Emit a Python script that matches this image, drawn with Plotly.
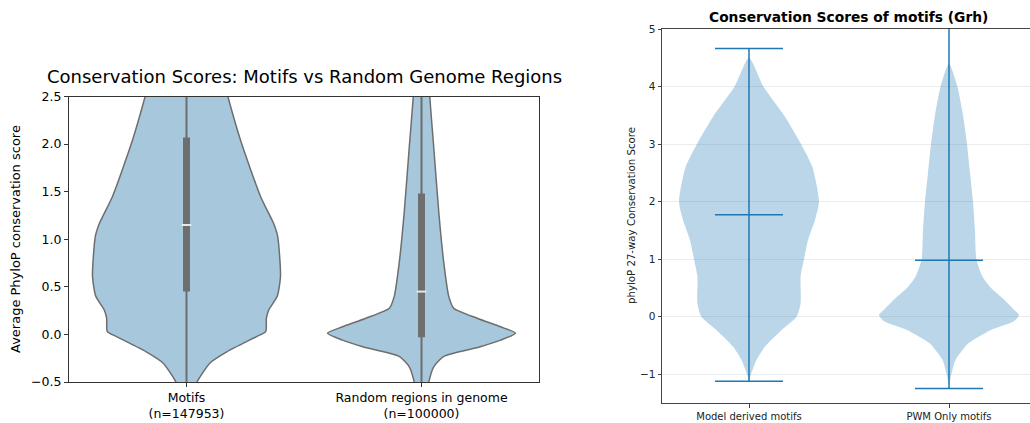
import plotly.graph_objects as go

# ---------------- data ----------------
# Left chart (seaborn-style violins): profile of each violin as (score, half-width)
left_categories = ["Motifs<br>(n=147953)", "Random regions in genome<br>(n=100000)"]
left_positions = [0, 1]

motifs_y = [2.75, 2.5, 2.04, 1.45, 1.17, 1.03, 0.61, 0.40, 0.257, 0.17, 0.03, -0.02, -0.18, -0.30, -0.5, -0.6]
motifs_hw = [0.15, 0.176, 0.23, 0.315, 0.37, 0.388, 0.40, 0.386, 0.35, 0.34, 0.337, 0.30, 0.173, 0.10, 0.045, 0.03]

random_y = [2.75, 2.5, 1.97, 1.27, 0.75, 0.40, 0.275, 0.17, 0.08, 0.013, -0.06, -0.13, -0.23, -0.34, -0.5, -0.6]
random_hw = [0.03, 0.035, 0.052, 0.074, 0.095, 0.116, 0.137, 0.237, 0.336, 0.40, 0.336, 0.25, 0.095, 0.052, 0.031, 0.025]

left_q1 = [0.45, -0.03]
left_q3 = [2.07, 1.48]
left_median = [1.15, 0.45]
left_whisk_lo = [-0.7, -0.7]
left_whisk_hi = [2.8, 2.8]

# Right chart (matplotlib-style violins)
right_categories = ["Model derived motifs", "PWM Only motifs"]
right_positions = [1, 2]

model_y = [4.5, 4.0, 3.5, 3.0, 2.6, 2.0, 1.68, 1.33, 1.0, 0.7, 0.23, 0.0, -0.23, -0.52, -0.75, -1.0, -1.12]
model_hw = [0.0, 0.072, 0.175, 0.26, 0.317, 0.35, 0.33, 0.295, 0.275, 0.258, 0.258, 0.238, 0.163, 0.08, 0.038, 0.01, 0.0]

pwm_y = [4.4, 4.0, 3.5, 3.0, 2.5, 2.0, 1.5, 1.0, 0.7, 0.5, 0.3, 0.12, 0.03, -0.08, -0.23, -0.47, -0.75, -1.0, -1.2]
pwm_hw = [0.0, 0.042, 0.07, 0.09, 0.105, 0.12, 0.13, 0.137, 0.167, 0.21, 0.275, 0.325, 0.35, 0.325, 0.21, 0.095, 0.033, 0.012, 0.0]

right_max = [4.66, 5.3]
right_min = [-1.12, -1.25]
right_mid = [1.77, 0.98]

left_yticks = [-0.5, 0.0, 0.5, 1.0, 1.5, 2.0, 2.5]
right_yticks = [-1, 0, 1, 2, 3, 4, 5]

# ---------------- figure ----------------
W, H = 1030, 423
fig = go.Figure()

def px_x(p):
    return p / W

def px_y(p):
    return 1 - p / H

LEFT_FILL = "#a6c7dc"
LEFT_EDGE = "#6e6e6e"
BLUE = "#1f77b4"

def violin_shape(center, ys, hws):
    xs = [center + h for h in hws] + [center - h for h in reversed(hws)]
    yy = list(ys) + list(reversed(ys))
    return xs, yy

for c, ys, hws in [(left_positions[0], motifs_y, motifs_hw), (left_positions[1], random_y, random_hw)]:
    xs, yy = violin_shape(c, ys, hws)
    fig.add_trace(go.Scatter(x=xs, y=yy, mode="lines", fill="toself", fillcolor=LEFT_FILL,
                             line=dict(color=LEFT_EDGE, width=1.5, shape="spline", smoothing=0.6),
                             xaxis="x", yaxis="y", showlegend=False, hoverinfo="skip"))

for i, c in enumerate(left_positions):
    fig.add_trace(go.Scatter(x=[c, c], y=[left_whisk_lo[i], left_whisk_hi[i]], mode="lines",
                             line=dict(color=LEFT_EDGE, width=2), xaxis="x", yaxis="y",
                             showlegend=False, hoverinfo="skip"))
    fig.add_trace(go.Scatter(x=[c, c], y=[left_q1[i], left_q3[i]], mode="lines",
                             line=dict(color=LEFT_EDGE, width=7), xaxis="x", yaxis="y",
                             showlegend=False, hoverinfo="skip"))
    fig.add_trace(go.Scatter(x=[c], y=[left_median[i]], mode="markers",
                             marker=dict(symbol="line-ew", size=7, line=dict(color="#e8e8e8", width=2)),
                             xaxis="x", yaxis="y", showlegend=False, hoverinfo="skip"))

for c, ys, hws in [(right_positions[0], model_y, model_hw), (right_positions[1], pwm_y, pwm_hw)]:
    xs, yy = violin_shape(c, ys, hws)
    fig.add_trace(go.Scatter(x=xs, y=yy, mode="lines", fill="toself", fillcolor="rgba(31,119,180,0.3)",
                             line=dict(color="rgba(31,119,180,0)", width=0, shape="spline", smoothing=0.6),
                             xaxis="x2", yaxis="y2", showlegend=False, hoverinfo="skip"))

CAP = 0.17
for i, c in enumerate(right_positions):
    fig.add_trace(go.Scatter(x=[c, c], y=[right_min[i], right_max[i]], mode="lines",
                             line=dict(color=BLUE, width=1.5), xaxis="x2", yaxis="y2",
                             showlegend=False, hoverinfo="skip"))
    for v in (right_min[i], right_max[i], right_mid[i]):
        fig.add_trace(go.Scatter(x=[c - CAP, c + CAP], y=[v, v], mode="lines",
                                 line=dict(color=BLUE, width=1.5), xaxis="x2", yaxis="y2",
                                 showlegend=False, hoverinfo="skip"))

FONT = "DejaVu Sans"

fig.update_layout(
    template="none",
    width=W, height=H,
    autosize=False,
    margin=dict(l=0, r=0, t=0, b=0, pad=0, autoexpand=False),
    paper_bgcolor="white", plot_bgcolor="white",
    font=dict(family=FONT, color="black"),
    showlegend=False,
    xaxis=dict(domain=[px_x(69), px_x(539)], range=[-0.5, 1.5], tickvals=left_positions,
               ticktext=left_categories, showline=True, linecolor="#333", linewidth=1.2, mirror=True,
               ticks="outside", ticklen=4, tickcolor="#333", showgrid=False, zeroline=False,
               automargin=False, tickfont=dict(size=12.5, family=FONT), anchor="y"),
    yaxis=dict(domain=[px_y(382), px_y(96.5)], range=[-0.5, 2.5], tickvals=left_yticks,
               tickformat=".1f", showline=True, linecolor="#333", linewidth=1.2, mirror=True,
               ticks="outside", ticklen=4, tickcolor="#333", showgrid=False, zeroline=False,
               automargin=False, tickfont=dict(size=12.5, family=FONT), anchor="x"),
    xaxis2=dict(domain=[px_x(662), 1.0], range=[0.565, 2.405], tickvals=right_positions,
                ticktext=right_categories, showline=True, linecolor="#444", linewidth=1, mirror=True,
                ticks="outside", ticklen=3.5, tickcolor="#444", showgrid=False, zeroline=False,
                automargin=False, tickfont=dict(size=10, family=FONT, color="#222"), anchor="y2"),
    yaxis2=dict(domain=[px_y(403), px_y(29)], range=[-1.5, 5], tickvals=right_yticks,
                showline=True, linecolor="#444", linewidth=1, mirror=False,
                ticks="outside", ticklen=3.5, tickcolor="#444", showgrid=True, gridcolor="#ececec",
                gridwidth=1, zeroline=False,
                automargin=False, tickfont=dict(size=10.5, family=FONT, color="#222"), anchor="x2"),
    annotations=[
        dict(text="Conservation Scores: Motifs vs Random Genome Regions", xref="paper", yref="paper",
             x=px_x(304), y=px_y(76.5), xanchor="center", yanchor="middle", showarrow=False,
             font=dict(size=18, family=FONT, color="black")),
        dict(text="Average PhyloP conservation score", xref="paper", yref="paper",
             x=px_x(15), y=px_y(239), xanchor="center", yanchor="middle", showarrow=False,
             textangle=-90, font=dict(size=13, family=FONT, color="black")),
        dict(text="<b>Conservation Scores of motifs (Grh)</b>", xref="paper", yref="paper",
             x=px_x(848.5), y=px_y(17), xanchor="center", yanchor="middle", showarrow=False,
             font=dict(size=13.8, family=FONT, color="black")),
        dict(text="phyloP 27-way Conservation Score", xref="paper", yref="paper",
             x=px_x(632), y=px_y(216), xanchor="center", yanchor="middle", showarrow=False,
             textangle=-90, font=dict(size=10.2, family=FONT, color="#222")),
    ],
)

fig.write_html("out.html")
